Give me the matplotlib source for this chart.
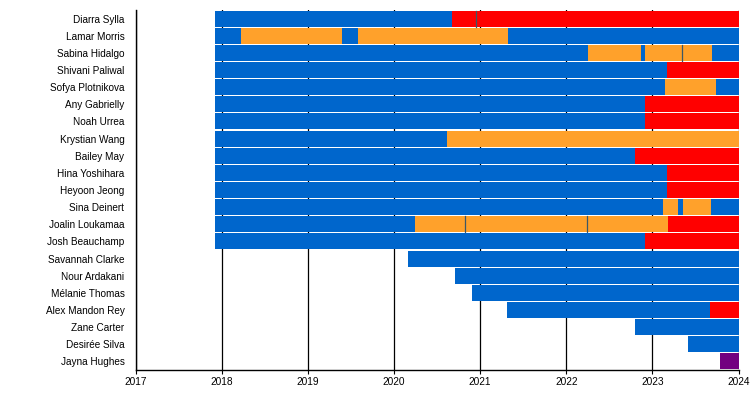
import matplotlib

matplotlib.use("Agg")
import matplotlib.pyplot as plt

plt.rcParams["font.family"] = ["Liberation Sans", "DejaVu Sans"]

names = [
    "Diarra Sylla", "Lamar Morris", "Sabina Hidalgo", "Shivani Paliwal",
    "Sofya Plotnikova", "Any Gabrielly", "Noah Urrea", "Krystian Wang",
    "Bailey May", "Hina Yoshihara", "Heyoon Jeong", "Sina Deinert",
    "Joalin Loukamaa", "Josh Beauchamp", "Savannah Clarke", "Nour Ardakani",
    "Mélanie Thomas", "Alex Mandon Rey", "Zane Carter", "Desirée Silva",
    "Jayna Hughes",
]

# boundaries of each period, one list per member
edges = [
    [2017.92, 2020.67, 2020.95, 2024.0],
    [2017.92, 2018.23, 2019.40, 2019.58, 2021.32, 2024.0],
    [2017.92, 2022.25, 2022.87, 2022.91, 2023.345, 2023.69, 2024.0],
    [2017.92, 2023.17, 2024.0],
    [2017.92, 2023.15, 2023.74, 2024.0],
    [2017.92, 2022.91, 2024.0],
    [2017.92, 2022.91, 2024.0],
    [2017.92, 2020.62, 2024.0],
    [2017.92, 2022.80, 2024.0],
    [2017.92, 2023.17, 2024.0],
    [2017.92, 2023.17, 2024.0],
    [2017.92, 2023.12, 2023.30, 2023.36, 2023.68, 2024.0],
    [2017.92, 2020.24, 2020.82, 2022.24, 2023.18, 2024.0],
    [2017.92, 2022.91, 2024.0],
    [2020.16, 2024.0],
    [2020.71, 2024.0],
    [2020.91, 2024.0],
    [2021.31, 2023.67, 2024.0],
    [2022.80, 2024.0],
    [2023.41, 2024.0],
    [2023.78, 2024.0],
]

# status of each period
kinds = [
    ["blue", "red", "red"],
    ["blue", "orange", "blue", "orange", "blue"],
    ["blue", "orange", "blue", "orange", "orange", "blue"],
    ["blue", "red"],
    ["blue", "orange", "blue"],
    ["blue", "red"],
    ["blue", "red"],
    ["blue", "orange"],
    ["blue", "red"],
    ["blue", "red"],
    ["blue", "red"],
    ["blue", "orange", "blue", "orange", "blue"],
    ["blue", "orange", "orange", "orange", "red"],
    ["blue", "red"],
    ["blue"],
    ["blue"],
    ["blue"],
    ["blue", "red"],
    ["blue"],
    ["blue"],
    ["purple"],
]

years = list(range(2017, 2025))

palette = {
    "blue": "#0066cc",
    "orange": "#ffa12b",
    "red": "#ff0000",
    "purple": "#720080",
}

fig = plt.figure(figsize=(7.5, 4), dpi=100)
ax = fig.add_axes([0.1807, 0.075, 0.804, 0.90])

for row, (e, k) in enumerate(zip(edges, kinds)):
    for i, kind in enumerate(k):
        ax.barh(row, e[i + 1] - e[i], left=e[i], height=0.94,
                color=palette[kind], linewidth=0, zorder=2)
        if i > 0 and k[i - 1] == kind:
            ax.plot([e[i], e[i]], [row - 0.47, row + 0.47],
                    color="#3d5866", lw=0.9, zorder=3)

ax.set_xlim(2017, 2024)
ax.set_ylim(len(names) - 0.5, -0.5)
ax.set_xticks(years)
ax.set_xticklabels([str(y) for y in years], fontsize=7.3)
ax.set_yticks(range(len(names)))
ax.set_yticklabels(names, fontsize=7.2)
ax.tick_params(axis="y", length=0, pad=8)
ax.tick_params(axis="x", length=3, width=0.8, pad=2)
ax.grid(axis="x", color="black", lw=0.9, zorder=0)
ax.set_axisbelow(True)
for side in ("top", "right"):
    ax.spines[side].set_visible(False)
for side in ("left", "bottom"):
    ax.spines[side].set_linewidth(1.0)

fig.savefig("out.png", dpi=100)
